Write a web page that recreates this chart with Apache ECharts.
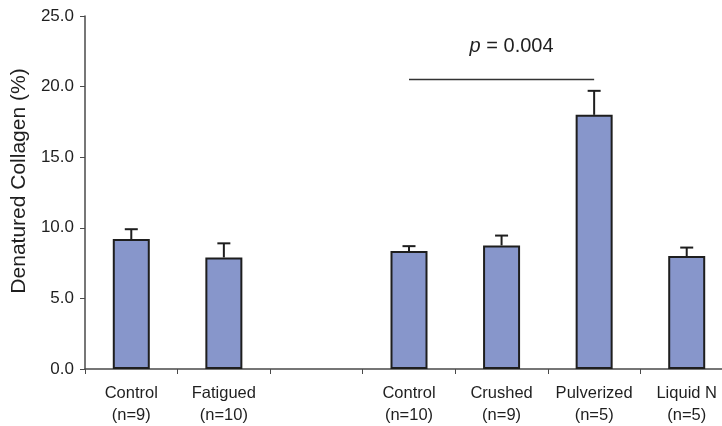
<!DOCTYPE html>
<html>
<head>
<meta charset="utf-8">
<script src="https://cdn.jsdelivr.net/npm/echarts@6/dist/echarts.min.js"></script>
<style>
  html, body { margin: 0; padding: 0; background: #fff; }
  #chart { width: 722px; height: 426px; }
</style>
</head>
<body>
<div id="chart"></div>
<script>
// Group labels along the x axis (an empty slot separates the two experiments)
const categories = ['Control\n(n=9)', 'Fatigued\n(n=10)', '', 'Control\n(n=10)', 'Crushed\n(n=9)', 'Pulverized\n(n=5)', 'Liquid N\n(n=5)'];
// Mean denatured collagen (%) and its upper error (SD)
const means = [9.2, 7.9, null, 8.35, 8.75, 18.0, 8.0];
const errors = [0.7, 1.0, null, 0.35, 0.7, 1.7, 0.6];
// Significance bracket: from group index to group index, at this height
const sigFrom = 3;
const sigTo = 5;
const sigLevel = 20.5;
const sigText = '0.004';
const yTitle = 'Denatured Collagen (%)';

const dark = '#1e1e1e';
const axisGrey = '#4a4a4a';
const textColor = '#1f1f1f';
const font = '"Liberation Sans", Arial, sans-serif';

const chart = echarts.init(document.getElementById('chart'), null, { renderer: 'canvas' });

const errorData = means.map((m, i) => (m == null ? null : [i, m, m + errors[i]])).filter(d => d);

chart.setOption({
  animation: false,
  grid: { left: 85, top: 16, width: 648, height: 353, containLabel: false, outerBoundsMode: 'none' },
  graphic: [
    {
      // vertical axis title
      type: 'text', x: 19, y: 181, rotation: Math.PI / 2,
      style: { text: yTitle, fontFamily: font, fontSize: 21, fill: textColor, align: 'center', verticalAlign: 'middle' }
    }
  ],
  xAxis: {
    type: 'category',
    data: categories,
    boundaryGap: true,
    axisLine: { show: true, lineStyle: { color: axisGrey, width: 1.5 } },
    axisTick: { show: true, alignWithLabel: false, length: 5, lineStyle: { color: axisGrey, width: 1 } },
    axisLabel: {
      interval: 0, margin: 13, color: textColor, fontFamily: font, fontSize: 16.5, lineHeight: 22
    },
    splitLine: { show: false }
  },
  yAxis: {
    type: 'value',
    min: 0, max: 25, interval: 5,
    axisLine: { show: true, lineStyle: { color: axisGrey, width: 1.5 } },
    axisTick: { show: true, inside: false, length: 5, lineStyle: { color: axisGrey, width: 1 } },
    axisLabel: {
      margin: 11, color: textColor, fontFamily: font, fontSize: 17,
      formatter: v => v.toFixed(1)
    },
    splitLine: { show: false }
  },
  series: [
    {
      type: 'bar',
      data: means,
      barWidth: 37,
      itemStyle: { color: '#8796CB', borderColor: dark, borderWidth: 2 },
      z: 2
    },
    {
      // upper error bars with a cap
      type: 'custom',
      data: errorData,
      z: 3,
      renderItem: (params, api) => {
        const x = api.value(0);
        const base = api.coord([x, api.value(1)]);
        const top = api.coord([x, api.value(2)]);
        const half = 6.5;
        return {
          type: 'group',
          children: [
            { type: 'line', shape: { x1: base[0], y1: base[1], x2: top[0], y2: top[1] },
              style: { stroke: dark, lineWidth: 2 } },
            { type: 'line', shape: { x1: top[0] - half, y1: top[1], x2: top[0] + half, y2: top[1] },
              style: { stroke: dark, lineWidth: 2 } }
          ]
        };
      }
    },
    {
      // significance bracket and p-value
      type: 'custom',
      data: [[sigFrom, sigTo, sigLevel]],
      z: 3,
      renderItem: (params, api) => {
        const a = api.coord([api.value(0), api.value(2)]);
        const b = api.coord([api.value(1), api.value(2)]);
        const mid = (a[0] + b[0]) / 2;
        return {
          type: 'group',
          children: [
            { type: 'line', shape: { x1: a[0], y1: a[1], x2: b[0], y2: b[1] },
              style: { stroke: '#333', lineWidth: 1.5 } },
            { type: 'text', x: mid + 10, y: a[1] - 33,
              style: {
                text: '{p|p} = ' + sigText,
                rich: { p: { fontStyle: 'italic', fontFamily: font, fontSize: 20, fill: textColor } },
                fontFamily: font, fontSize: 20, fill: textColor,
                align: 'center', verticalAlign: 'middle'
              } }
          ]
        };
      }
    }
  ]
});
</script>
</body>
</html>
